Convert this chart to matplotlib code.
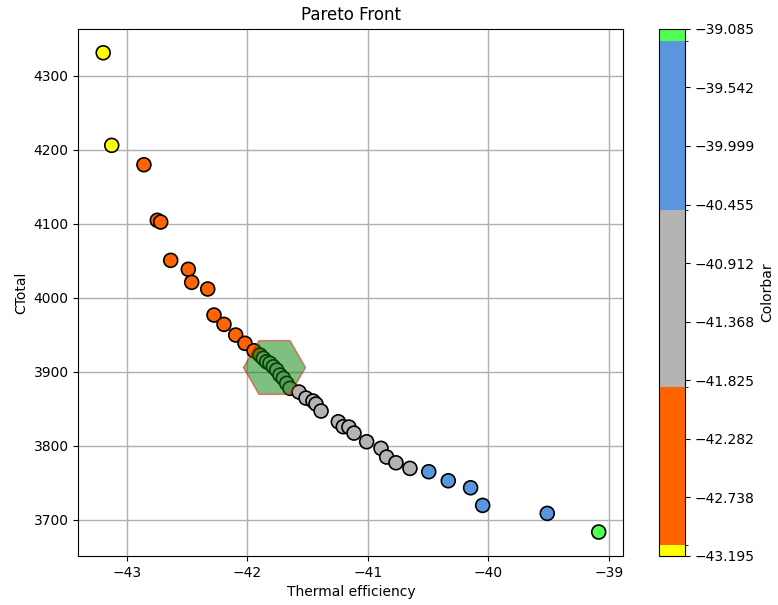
import matplotlib

matplotlib.use("Agg")
import matplotlib.pyplot as plt
import numpy as np
from matplotlib.colors import ListedColormap, BoundaryNorm
from matplotlib.ticker import FuncFormatter

# Pareto front: thermal efficiency vs total cost
eff = [
    -43.1948, -43.124,
    -42.857, -42.746, -42.718, -42.635, -42.489, -42.461, -42.328, -42.276,
    -42.193, -42.096, -42.019, -41.944, -41.895,
    -41.867, -41.839, -41.812, -41.784, -41.756, -41.729, -41.701, -41.673, -41.646,
    -41.571, -41.513, -41.455, -41.430, -41.388, -41.245, -41.204, -41.157,
    -41.115, -41.010, -40.891, -40.844, -40.767, -40.651,
    -40.495, -40.333, -40.148, -40.048, -39.512,
    -39.0854,
]
ctotal = [
    4331.0, 4205.9,
    4179.7, 4104.6, 4102.3, 4050.5, 4038.4, 4020.8, 4011.8, 3976.6,
    3964.0, 3949.6, 3938.4, 3928.4, 3922.6,
    3918.1, 3913.5, 3911.3, 3906.7, 3902.3, 3895.5, 3891.1, 3884.3, 3877.6,
    3872.6, 3864.4, 3860.4, 3856.4, 3846.9, 3832.4, 3825.7, 3825.2,
    3817.1, 3805.4, 3796.5, 3784.7, 3777.0, 3769.4,
    3764.9, 3752.7, 3743.2, 3719.4, 3708.6,
    3683.4,
]

# selected solution (hexagon)
best_eff = -41.778
best_ctotal = 3906.0

# colour bands of the colorbar
band_edges = [-43.1948, -43.106, -41.88, -40.50, -39.18, -39.0854]
band_colors = ["#ffff00", "#ff6400", "#b4b4b4", "#5a96e0", "#50ff50"]

fig = plt.figure(figsize=(7.78, 6.05), dpi=100)
ax = fig.add_axes([0.1008, 0.081, 0.7006, 0.8714])
cax = fig.add_axes([0.847, 0.081, 0.0334, 0.8714])

cmap = ListedColormap(band_colors)
cmap.set_over(band_colors[-1])
cmap.set_under(band_colors[0])
norm = BoundaryNorm(band_edges, cmap.N)

ax.set_axisbelow(True)
ax.grid(True, color="#b0b0b0", linewidth=1.0)
sc = ax.scatter(eff, ctotal, c=eff, cmap=cmap, norm=norm, s=100,
                edgecolors="black", linewidths=1.2, zorder=2)
ax.scatter([best_eff], [best_ctotal], marker="H", s=2000, color="green",
           edgecolors="red", alpha=0.5, zorder=3)

ax.set_title("Pareto Front", fontsize=12)
ax.set_xlabel("Thermal efficiency", fontsize=10)
ax.set_ylabel("CTotal", fontsize=10)

ticks = np.linspace(min(eff), max(eff), 10)
cb = fig.colorbar(sc, cax=cax, ticks=ticks, spacing="proportional",
                  format=FuncFormatter(lambda v, p: ("%.3f" % v).replace("-", "\u2212")))
cb.set_label("Colorbar", fontsize=10)

fig.savefig("out.png", dpi=100, facecolor="white")
